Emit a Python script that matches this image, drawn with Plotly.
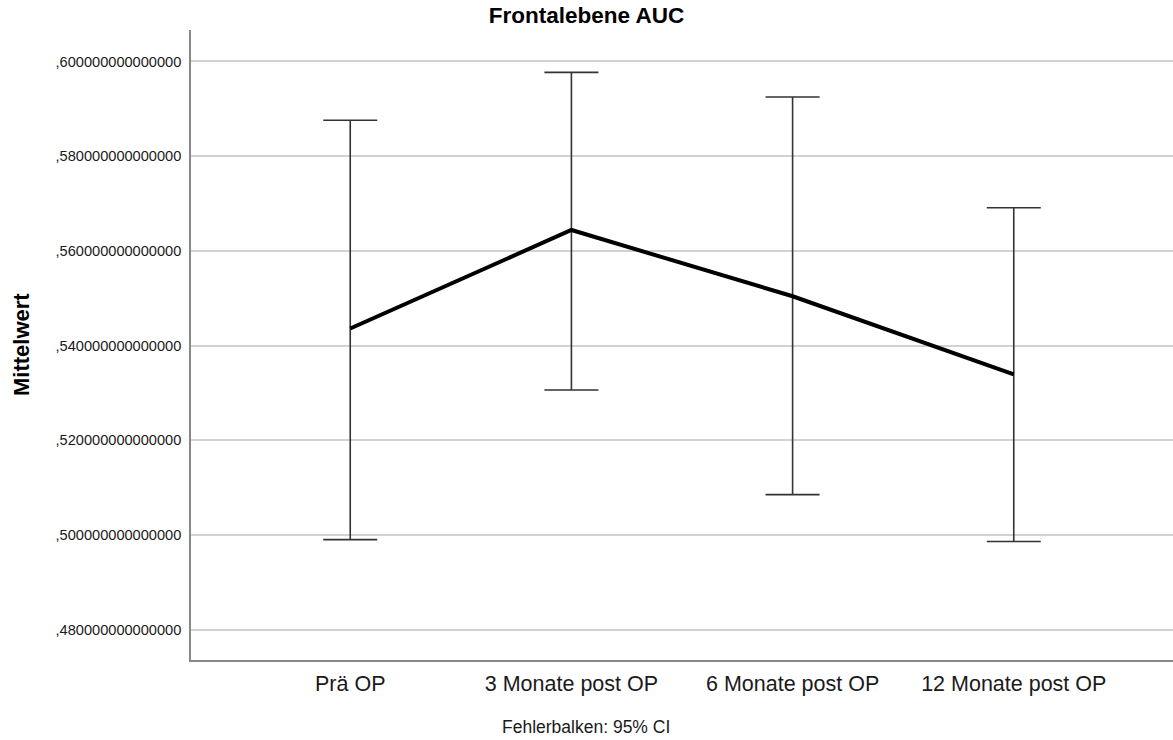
import plotly.graph_objects as go

categories = ["Prä OP", "3 Monate post OP", "6 Monate post OP", "12 Monate post OP"]
means = [0.5436, 0.5644, 0.5504, 0.5339]
ci_upper = [0.5876, 0.5977, 0.5925, 0.5691]
ci_lower = [0.4990, 0.5306, 0.5085, 0.4986]
tick_vals = [0.48, 0.50, 0.52, 0.54, 0.56, 0.58, 0.60]
tick_text = [",480000000000000", ",500000000000000", ",520000000000000", ",540000000000000",
             ",560000000000000", ",580000000000000", ",600000000000000"]

x_idx = list(range(len(categories)))
err_plus = [u - m for u, m in zip(ci_upper, means)]
err_minus = [m - l for m, l in zip(means, ci_lower)]

FONT = "Liberation Sans, Arial, sans-serif"

fig = go.Figure()
fig.add_trace(go.Scatter(
    x=x_idx, y=means, mode="lines",
    line=dict(color="black", width=4),
    error_y=dict(type="data", symmetric=False, array=err_plus, arrayminus=err_minus,
                 color="#333333", thickness=1.6, width=27),
    showlegend=False, hoverinfo="skip",
))

fig.update_layout(
    width=1173, height=740,
    margin=dict(l=191, r=0, t=30, b=80),
    paper_bgcolor="white", plot_bgcolor="white",
    font=dict(family=FONT, color="#1a1a1a"),
    title=dict(text="<b>Frontalebene AUC</b>", x=0.5, xref="container", xanchor="center",
               y=1 - 15 / 740, yref="container", yanchor="middle",
               font=dict(size=22.5, family=FONT, color="black")),
    xaxis=dict(
        tickmode="array", tickvals=x_idx, ticktext=categories,
        range=[-0.72, 3.72], showgrid=False, zeroline=False,
        showline=True, linecolor="#888888", linewidth=1.5,
        ticks="", tickfont=dict(size=21.5, family=FONT, color="#1a1a1a"),
        ticklabelstandoff=3,
    ),
    yaxis=dict(
        tickmode="array", tickvals=tick_vals, ticktext=tick_text,
        range=[0.47356, 0.60665], showgrid=True, gridcolor="#d2d2d2", gridwidth=1.5,
        zeroline=False, showline=True, linecolor="#888888", linewidth=1.5,
        ticks="", tickfont=dict(size=14.6, family=FONT, color="#1a1a1a"),
        ticklabelstandoff=5,
    ),
    annotations=[
        dict(text="<b>Mittelwert</b>", textangle=-90, xref="paper", yref="paper",
             x=(21 - 191) / 982, y=0.5, xanchor="center", yanchor="middle",
             showarrow=False, font=dict(size=22, family=FONT, color="black")),
        dict(text="Fehlerbalken: 95% CI", xref="paper", yref="paper",
             x=(586 - 191) / 982, y=(660 - 727) / 630, xanchor="center", yanchor="middle",
             showarrow=False, font=dict(size=17.5, family=FONT, color="#1a1a1a")),
    ],
)

fig.write_html("out.html")
